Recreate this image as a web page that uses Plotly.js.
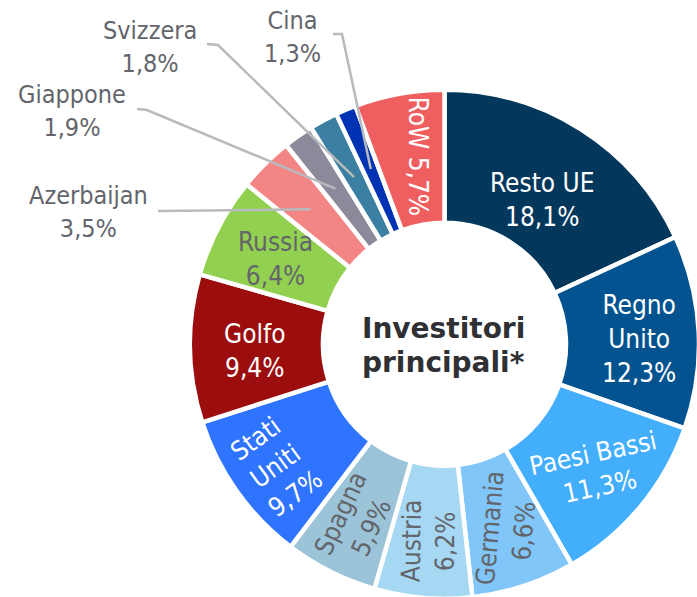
<!DOCTYPE html>
<html>
<head>
<meta charset="utf-8">
<script src="https://cdn.plot.ly/plotly-3.0.1.min.js"></script>
<style>
  html, body { margin: 0; padding: 0; overflow: hidden; background: #ffffff; }
  #chart { width: 700px; height: 600px; }
</style>
</head>
<body>
<div id="chart"></div>
<script>
// Investor shares (%), listed clockwise from 12 o'clock
const countries = ['Resto UE', 'Regno Unito', 'Paesi Bassi', 'Germania', 'Austria', 'Spagna',
                   'Stati Uniti', 'Golfo', 'Russia', 'Azerbaijan', 'Giappone', 'Svizzera', 'Cina', 'RoW'];
const countryLines = ['Resto UE', 'Regno<br>Unito', 'Paesi Bassi', 'Germania', 'Austria', 'Spagna',
                      'Stati<br>Uniti', 'Golfo', 'Russia', 'Azerbaijan', 'Giappone', 'Svizzera', 'Cina', 'RoW'];
const shares = [18.1, 12.3, 11.3, 6.6, 6.2, 5.9, 9.7, 9.4, 6.4, 3.5, 1.9, 1.8, 1.3, 5.7];
const centerLines = ['Investitori', 'principali*'];

// Slice colours
const sliceColors = ['#03375c', '#02538f', '#42aefc', '#80c6f9', '#a6d8f4', '#9cc4d9', '#2f74fe',
                     '#9c0d0e', '#92d050', '#f48585', '#8b8a9b', '#3b80a2', '#0033b3', '#f05f5f'];

// Canvas and ring geometry (pixels)
const W = 700, H = 600;
const CX = 444.5, CY = 344.2, R = 254.5, R_IN = 121.5;

// Label styling per slice: in-ring labels (rotation, radius, colour, nudge) or outside labels with leader lines
const GRAY = '#63656b';
const inLabelStyle = {
  'Resto UE':    { angle: 0,   r: 182, color: '#ffffff', join: '<br>', nudge: [0, 9] },
  'Regno Unito': { angle: 0,   r: 195, color: '#ffffff', join: '<br>', nudge: [0, 4] },
  'Paesi Bassi': { angle: -12, r: 197, color: '#ffffff', join: '<br>', nudge: [0, 0] },
  'Germania':    { angle: -85, r: 195, color: GRAY,      join: '<br>', nudge: [2, 0] },
  'Austria':     { angle: -89, r: 197, color: GRAY,      join: '<br>', nudge: [1, 0] },
  'Spagna':      { angle: -65, r: 197, color: GRAY,      join: '<br>', nudge: [0, 0] },
  'Stati Uniti': { angle: -36, r: 208, color: '#ffffff', join: '<br>', nudge: [1, 2] },
  'Golfo':       { angle: 0,   r: 190, color: '#ffffff', join: '<br>', nudge: [0, 4] },
  'Russia':      { angle: 0,   r: 193, color: GRAY,      join: '<br>', nudge: [2, 4] },
  'RoW':         { angle: 90,  r: 191, color: '#ffffff', join: ' ',    nudge: [7, 0] }
};
const outLabelStyle = {
  'Azerbaijan': { text: [88, 212],  elbow: [[158, 211]] },
  'Giappone':   { text: [72, 111],  elbow: [[137, 109], [147, 110]] },
  'Svizzera':   { text: [150, 47],  elbow: [[207, 44], [218, 45]] },
  'Cina':       { text: [292, 37],  elbow: [[333, 34], [342, 34]] }
};
const LEADER_R = 190;

const LABEL_FONT = '"DejaVu Sans Condensed", "DejaVu Sans", sans-serif';

const px2x = (px) => px / W;
const py2y = (py) => 1 - py / H;
const fmtPct = (v) => v.toFixed(1).replace('.', ',') + '%';

// Mid-angle of each slice (clockwise from top), from the share values
const total = shares.reduce((a, b) => a + b, 0);
let cum = 0;
const midAngles = shares.map((v) => {
  const a = 2 * Math.PI * (cum + v / 2) / total;
  cum += v;
  return a;
});
const polar = (theta, r) => [CX + r * Math.sin(theta), CY - r * Math.cos(theta)];

const annotations = [];
const shapes = [];

countries.forEach((name, i) => {
  const pct = fmtPct(shares[i]);
  if (inLabelStyle[name]) {
    const st = inLabelStyle[name];
    const [x, y] = polar(midAngles[i], st.r);
    annotations.push({
      xref: 'paper', yref: 'paper', x: px2x(x + st.nudge[0]), y: py2y(y + st.nudge[1]),
      xanchor: 'center', yanchor: 'middle', showarrow: false,
      text: countryLines[i] + st.join + pct, textangle: st.angle,
      font: { family: LABEL_FONT, size: 26, color: st.color }
    });
  } else if (outLabelStyle[name]) {
    const st = outLabelStyle[name];
    annotations.push({
      xref: 'paper', yref: 'paper', x: px2x(st.text[0]), y: py2y(st.text[1]),
      xanchor: 'center', yanchor: 'middle', showarrow: false,
      text: countryLines[i] + '<br>' + pct,
      font: { family: LABEL_FONT, size: 25, color: GRAY }
    });
    const end = polar(midAngles[i], LEADER_R);
    const pts = st.elbow.concat([end]);
    const path = pts.map((p, k) => (k === 0 ? 'M ' : 'L ') + px2x(p[0]) + ' ' + py2y(p[1])).join(' ');
    shapes.push({
      type: 'path', xref: 'paper', yref: 'paper', path: path,
      line: { color: '#b8babe', width: 2.5 }
    });
  }
});

// Title in the hole
const centerY = [328, 362];
centerLines.forEach((t, k) => {
  annotations.push({
    xref: 'paper', yref: 'paper', x: px2x(443), y: py2y(centerY[k]),
    xanchor: 'center', yanchor: 'middle', showarrow: false,
    text: '<b>' + t + '</b>',
    font: { family: '"DejaVu Sans", sans-serif', size: 28, color: '#2e3034' }
  });
});

const trace = {
  type: 'pie',
  labels: countries,
  values: shares,
  sort: false,
  direction: 'clockwise',
  rotation: 0,
  hole: R_IN / R,
  textinfo: 'none',
  hoverinfo: 'label+percent',
  marker: { colors: sliceColors, line: { color: '#ffffff', width: 4.5 } },
  domain: {
    x: [(CX - R) / W, (CX + R) / W],
    y: [(H - CY - R) / H, (H - CY + R) / H]
  }
};

const layout = {
  width: W, height: H,
  margin: { l: 0, r: 0, t: 0, b: 0 },
  paper_bgcolor: '#ffffff',
  showlegend: false,
  annotations: annotations,
  shapes: shapes
};

Plotly.newPlot('chart', [trace], layout, { displayModeBar: false, staticPlot: true });
</script>
</body>
</html>
